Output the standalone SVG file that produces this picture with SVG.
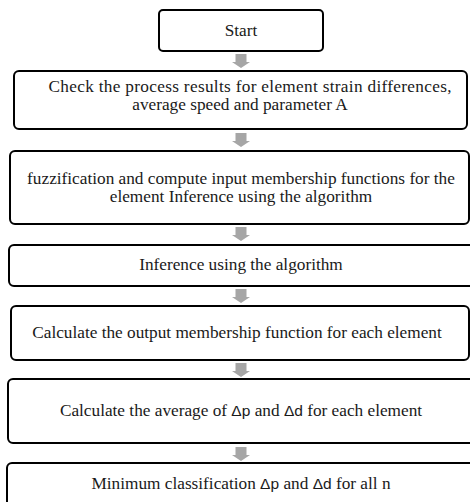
<svg xmlns="http://www.w3.org/2000/svg" width="470" height="502" viewBox="0 0 470 502">
<defs>
<style>
.box{fill:#fff;stroke:#000;stroke-width:2}
.t{font-family:"Liberation Serif","Times New Roman",serif;font-size:17.25px;fill:#1a1a1a;text-anchor:middle}
.d{font-family:"Liberation Sans",Arial,sans-serif;font-size:15.5px}
.arr{fill:#a6a6a6}
</style>
<path id="arrow" d="M-5.5,0 H5.5 V8 H9 L0,14 L-9,8 H-5.5 Z"/>
</defs>
<rect width="470" height="502" fill="#fff"/>
<g id="connectors" class="arr">
<use href="#arrow" x="241" y="54"/>
<use href="#arrow" x="241" y="133"/>
<use href="#arrow" x="241" y="227"/>
<use href="#arrow" x="241" y="289"/>
<use href="#arrow" x="241" y="363"/>
<use href="#arrow" x="241" y="447"/>
</g>
<g id="start">
<rect class="box" x="159" y="10" width="164" height="41" rx="4"/>
<text class="t" x="241" y="36">Start</text>
</g>
<g id="check">
<rect class="box" x="14" y="71" width="453" height="58" rx="5"/>
<text class="t" x="250" y="92" textLength="403" lengthAdjust="spacing">Check the process results for element strain differences,</text>
<text class="t" x="240" y="110">average speed and parameter A</text>
</g>
<g id="fuzzification">
<rect class="box" x="10" y="151" width="459" height="73" rx="5"/>
<text class="t" x="241" y="184">fuzzification and compute input membership functions for the</text>
<text class="t" x="241" y="202">element Inference using the algorithm</text>
</g>
<g id="inference">
<rect class="box" x="9" y="245" width="468" height="41" rx="5"/>
<text class="t" x="241" y="270">Inference using the algorithm</text>
</g>
<g id="output">
<rect class="box" x="11" y="306" width="458" height="54" rx="5"/>
<text class="t" x="237" y="338">Calculate the output membership function for each element</text>
</g>
<g id="average">
<rect class="box" x="8" y="379" width="469" height="64" rx="5"/>
<text class="t" x="241" y="416">Calculate the average of <tspan class="d">Δp</tspan> and <tspan class="d">Δd</tspan> for each element</text>
</g>
<g id="minimum">
<rect class="box" x="7" y="463" width="470" height="50" rx="5"/>
<text class="t" x="241" y="489">Minimum classification <tspan class="d">Δp</tspan> and <tspan class="d">Δd</tspan> for all n</text>
</g>
</svg>
